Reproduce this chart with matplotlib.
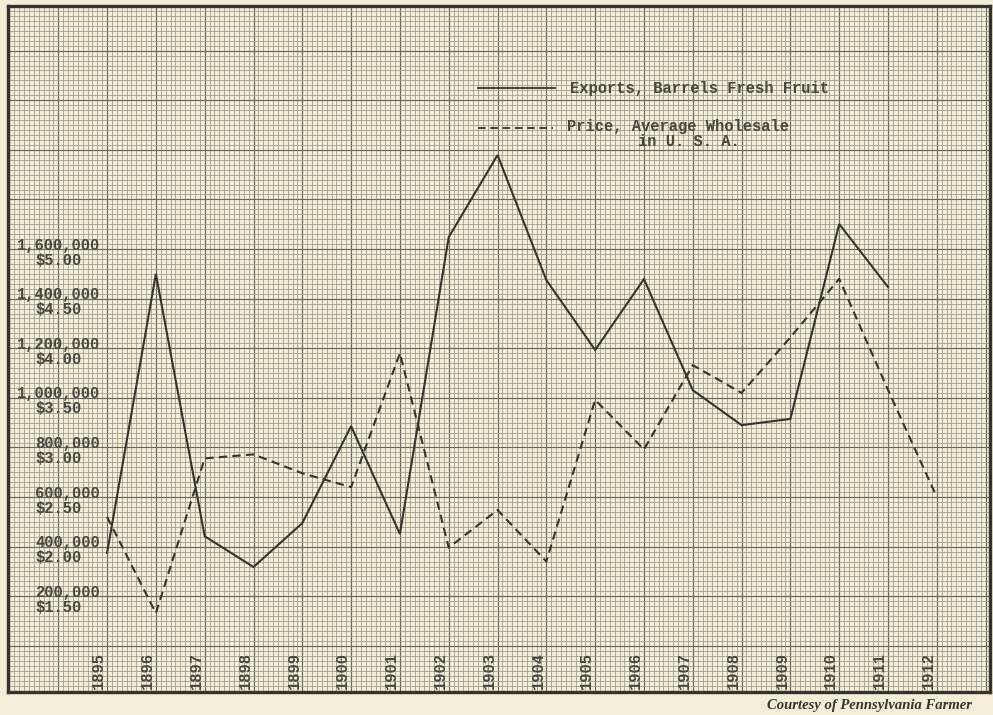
import matplotlib
matplotlib.use("Agg")
import matplotlib.pyplot as plt
from matplotlib.ticker import MultipleLocator
from matplotlib.lines import Line2D
import matplotlib.transforms as mtransforms

# ---- data -------------------------------------------------------------
export_years = [1895, 1896, 1897, 1898, 1899, 1900, 1901, 1902, 1903,
                1904, 1905, 1906, 1907, 1908, 1909, 1910, 1911]
exports_barrels = [375000, 1500000, 442000, 318000, 495000, 886000, 451000,
                   1648000, 1979000, 1475000, 1193000, 1479000, 1031000,
                   890000, 915000, 1701000, 1447000]

price_years = [1895, 1896, 1897, 1898, 1899, 1900, 1901, 1902, 1903,
               1904, 1905, 1906, 1907, 1908, 1909, 1910, 1911, 1912]
price_dollars = [2.30, 1.33, 2.89, 2.93, 2.74, 2.60, 3.95, 1.99, 2.37,
                 1.85, 3.48, 2.98, 3.83, 3.55, 4.11, 4.70, 3.58, 2.50]

year_labels = [str(y) for y in range(1895, 1913)]
scale_barrels = [200000, 400000, 600000, 800000, 1000000, 1200000,
                 1400000, 1600000]
scale_prices = ["$1.50", "$2.00", "$2.50", "$3.00", "$3.50", "$4.00",
                "$4.50", "$5.00"]

legend_exports = "Exports, Barrels Fresh Fruit"
legend_price = "Price, Average Wholesale"
legend_price_2 = "in U. S. A."
credit = "Courtesy of Pennsylvania Farmer"

# ---- style ------------------------------------------------------------
paper = "#f4eed8"
ink = "#36332f"
type_ink = "#4a4640"
mono = ["Liberation Mono", "DejaVu Sans Mono"]

fig = plt.figure(figsize=(9.93, 7.15), dpi=100, facecolor=paper)
W, H = 993, 715
left, right, top, bottom = 8, 990, 6, 692
ax = fig.add_axes([left / W, (H - bottom) / H, (right - left) / W,
                   (bottom - top) / H])
ax.set_facecolor(paper)

x_lo, x_hi = 1892.97, 1913.09
y_lo, y_hi = -186000, 2580000
ax.set_xlim(x_lo, x_hi)
ax.set_ylim(y_lo, y_hi)

# graph-paper ruling: one heavy line per year / 200,000 barrels
ax.xaxis.set_major_locator(MultipleLocator(1))
ax.xaxis.set_minor_locator(MultipleLocator(0.1))
ax.yaxis.set_major_locator(MultipleLocator(200000))
ax.yaxis.set_minor_locator(MultipleLocator(20000))
ax.grid(which="minor", color="#9d978c", linewidth=0.55)
ax.grid(which="major", color="#6b665f", linewidth=0.85)
ax.set_axisbelow(True)
ax.tick_params(which="both", length=0, labelbottom=False, labelleft=False)
for s in ax.spines.values():
    s.set_color(ink)
    s.set_linewidth(2.4)

# price shares the ruling: $0.50 per 200,000 barrels, $1.50 at 200,000
ax2 = ax.twinx()
ax2.set_ylim(1 + y_lo / 400000, 1 + y_hi / 400000)
ax2.set_xlim(x_lo, x_hi)
ax2.axis("off")

ax.plot(export_years, exports_barrels, color=ink, linewidth=1.5,
        solid_joinstyle="miter", zorder=3)
ax2.plot(price_years, price_dollars, color=ink, linewidth=1.5,
         linestyle=(0, (4.0, 2.5)), zorder=3)

# scale figures typed along the left margin
trans_y = mtransforms.blended_transform_factory(ax.transAxes, ax.transData)
up = mtransforms.offset_copy(trans_y, fig=fig, x=0, y=4, units="dots")
down = mtransforms.offset_copy(trans_y, fig=fig, x=0, y=-11, units="dots")
for v, p in zip(scale_barrels, scale_prices):
    ax.text((100 - left) / (right - left), v, f"{v:,}", transform=up,
            ha="right", va="center", family=mono, fontsize=11.2,
            fontweight="bold", color=type_ink, zorder=4)
    ax.text((35 - left) / (right - left), v, p, transform=down,
            ha="left", va="center", family=mono, fontsize=11.2,
            fontweight="bold", color=type_ink, zorder=4)

# year figures typed upward along the bottom
trans_x = mtransforms.blended_transform_factory(ax.transData, ax.transAxes)
for lab in year_labels:
    ax.text(int(lab) - 0.17, 0.005, lab, transform=trans_x, rotation=90,
            ha="center", va="bottom", family=mono, fontsize=11.2,
            fontweight="bold", color=type_ink, zorder=4)

# key
def fx(px):
    return (px - left) / (right - left)


def fy(py):
    return (bottom - py) / (bottom - top)


ax.add_line(Line2D([fx(478), fx(555)], [fy(88), fy(88)], transform=ax.transAxes,
                   color=ink, linewidth=1.3, zorder=4))
ax.add_line(Line2D([fx(478), fx(553)], [fy(128), fy(128)],
                   transform=ax.transAxes, color=ink, linewidth=1.3,
                   linestyle=(0, (4.2, 2.6)), zorder=4))
ax.text(fx(570), fy(88), legend_exports, transform=ax.transAxes, ha="left",
        va="center", family=mono, fontsize=11.2, fontweight="bold",
        color=type_ink, zorder=4)
ax.text(fx(567), fy(127), legend_price, transform=ax.transAxes, ha="left",
        va="center", family=mono, fontsize=11.2, fontweight="bold",
        color=type_ink, zorder=4)
ax.text(fx(638), fy(142), legend_price_2, transform=ax.transAxes, ha="left",
        va="center", family=mono, fontsize=11.2, fontweight="bold",
        color=type_ink, zorder=4)

fig.text(972 / W, 1 - 706 / H, credit, ha="right", va="center",
         family=["Liberation Serif", "DejaVu Serif"], style="italic",
         fontweight="bold", fontsize=10.5, color="#35312c")

fig.savefig("out.png", dpi=100, facecolor=paper)
